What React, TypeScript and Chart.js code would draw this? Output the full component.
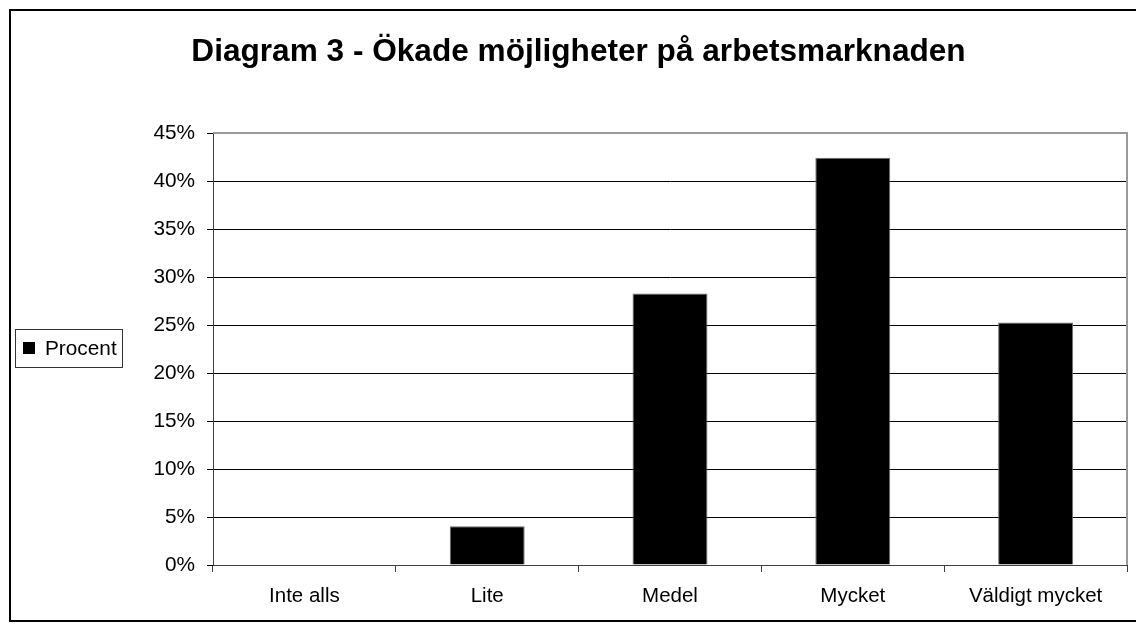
import React, { useEffect, useRef } from "react";
import { Chart, registerables } from "chart.js";

Chart.register(...registerables);

const titleText = "Diagram 3 - Ökade möjligheter på arbetsmarknaden";
const categories = ["Inte alls", "Lite", "Medel", "Mycket", "Väldigt mycket"];
const seriesLabel = "Procent";
const procent = [0, 4.04, 28.28, 42.42, 25.25];
const yMin = 0;
const yMax = 45;
const yStep = 5;

const FONT = "'Liberation Sans', Arial, sans-serif";

const framePlugin = {
  id: "frameAndLegend",
  afterDraw(chart: any) {
    const ctx = chart.ctx;
    const { top, right } = chart.chartArea;
    ctx.save();
    // plot area border (top & right)
    ctx.fillStyle = "#9a9a9a";
    ctx.fillRect(chart.chartArea.left, top - 1, right - chart.chartArea.left + 1, 2);
    ctx.fillRect(right - 1, top - 1, 2, chart.chartArea.bottom - top + 1);
    // outer frame
    ctx.fillStyle = "#000";
    ctx.fillRect(9, 9, 2, 613);
    ctx.fillRect(9, 9, 1127, 2);
    ctx.fillRect(9, 620, 1127, 2);
    // legend
    const ds = chart.data.datasets[0];
    ctx.strokeStyle = "#333";
    ctx.lineWidth = 1;
    ctx.strokeRect(15.5, 329.5, 107, 38);
    ctx.fillStyle = "#000";
    ctx.fillRect(23, 342, 12, 12);
    ctx.font = `20.8px ${FONT}`;
    ctx.textBaseline = "alphabetic";
    ctx.textAlign = "left";
    ctx.fillText(ds.label, 45, 355);
    ctx.restore();
  },
};

export default function App() {
  const ref = useRef<HTMLCanvasElement | null>(null);
  useEffect(() => {
    if (!ref.current) return;
    const chart = new Chart(ref.current, {
      type: "bar",
      data: {
        labels: categories,
        datasets: [
          {
            label: seriesLabel,
            data: procent,
            backgroundColor: "#000",
            borderColor: "#6e6e6e",
            borderWidth: 1,
            barPercentage: 0.41,
            categoryPercentage: 1,
          },
        ],
      },
      options: {
        animation: false,
        responsive: false,
        devicePixelRatio: 1,
        layout: { padding: { left: 30, right: 9, top: 0, bottom: 0 } },
        plugins: {
          legend: { display: false },
          tooltip: { enabled: false },
          title: {
            display: true,
            text: titleText,
            color: "#000",
            font: { family: FONT, size: 31.6, weight: "bold", lineHeight: "38px" },
            padding: { top: 33, bottom: 62 },
          },
        },
        scales: {
          x: {
            afterFit: (s: any) => {
              s.height = 67;
            },
            grid: {
              offset: true,
              drawOnChartArea: false,
              drawTicks: true,
              tickLength: 7,
              color: "#404040",
            },
            border: { color: "#404040", width: 1 },
            ticks: {
              color: "#000",
              padding: 12,
              maxRotation: 0,
              autoSkip: false,
              font: { family: FONT, size: 20.5 },
            },
          },
          y: {
            min: yMin,
            max: yMax,
            afterFit: (s: any) => {
              s.width = 183;
            },
            grid: {
              color: "#000",
              lineWidth: 1,
              drawTicks: true,
              tickLength: 6,
            },
            border: { color: "#404040", width: 1 },
            ticks: {
              stepSize: yStep,
              color: "#000",
              padding: 12,
              font: { family: FONT, size: 20.8 },
              callback: (v: any) => `${v}%`,
            },
          },
        },
      },
      plugins: [framePlugin],
    });
    return () => chart.destroy();
  }, []);
  return (
    <div style={{ position: "fixed", left: 0, top: 0, width: 1136, height: 632, background: "#fff" }}>
      <canvas ref={ref} width={1136} height={632} style={{ display: "block" }} />
    </div>
  );
}
